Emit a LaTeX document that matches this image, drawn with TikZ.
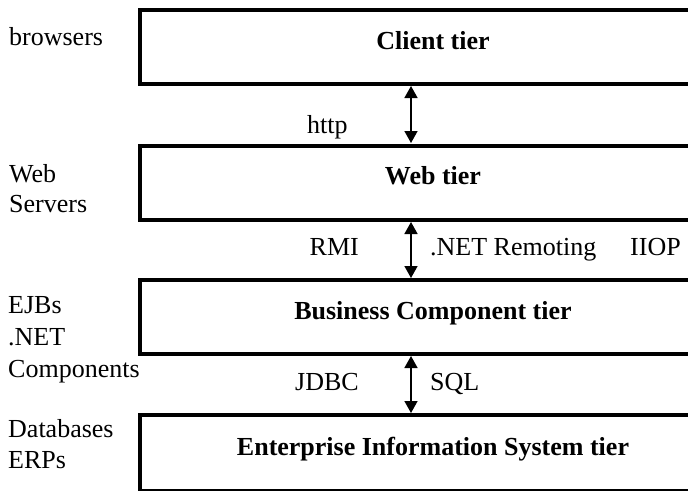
\documentclass[tikz,border=0pt]{standalone}
\usepackage{fontspec}
\setmainfont{Liberation Serif}
\usetikzlibrary{arrows.meta}
\tikzset{
  tier/.style={draw, line width=4pt, minimum width=586pt, minimum height=74pt,
    text height=18pt, text depth=14pt, font=\fontsize{26}{30}\selectfont\bfseries},
  lbl/.style={inner sep=0pt, font=\fontsize{26}{30}\selectfont},
  link/.style={{Triangle[width=13pt,length=12pt]}-{Triangle[width=13pt,length=12pt]}, line width=1.6pt}
}
\begin{document}
\begin{tikzpicture}[x=1pt, y=-1pt]
\useasboundingbox (0,0) rectangle (688,490);
\clip (0,0) rectangle (688,490);
% tiers
\node[tier] (client) at (433,47) {Client tier};
\node[tier] (web) at (433,182.5) {Web tier};
\node[tier] (biz) at (433,317) {Business Component tier};
\node[tier, minimum height=76pt] (eis) at (433,453) {Enterprise Information System tier};
% connectors
\draw[link] (411,86) coordinate (c1) -- (411,143) coordinate (w1);
\draw[link] (411,222) coordinate (w2) -- (411,278) coordinate (b1);
\draw[link] (411,356) coordinate (b2) -- (411,413) coordinate (e1);
% protocols
\node[lbl, anchor=base west] (http) at (307,133) {http};
\node[lbl, anchor=base east] (rmi) at (359,255) {RMI};
\node[lbl, anchor=base west] (remoting) at (430,255) {.NET Remoting};
\node[lbl, anchor=base west] (iiop) at (630,255) {IIOP};
\node[lbl, anchor=base east] (jdbc) at (359,390) {JDBC};
\node[lbl, anchor=base west] (sql) at (430,390) {SQL};
% left column
\node[lbl, anchor=base west] (brw) at (9,45) {browsers};
\node[lbl, anchor=base west] (web1) at (9,182) {Web};
\node[lbl, anchor=base west] (web2) at (9,212) {Servers};
\node[lbl, anchor=base west] (ejb1) at (8,313) {EJBs};
\node[lbl, anchor=base west] (ejb2) at (8,345) {.NET};
\node[lbl, anchor=base west] (ejb3) at (8,377) {Components};
\node[lbl, anchor=base west] (db1) at (8,437) {Databases};
\node[lbl, anchor=base west] (db2) at (8,468) {ERPs};
\end{tikzpicture}
\end{document}
